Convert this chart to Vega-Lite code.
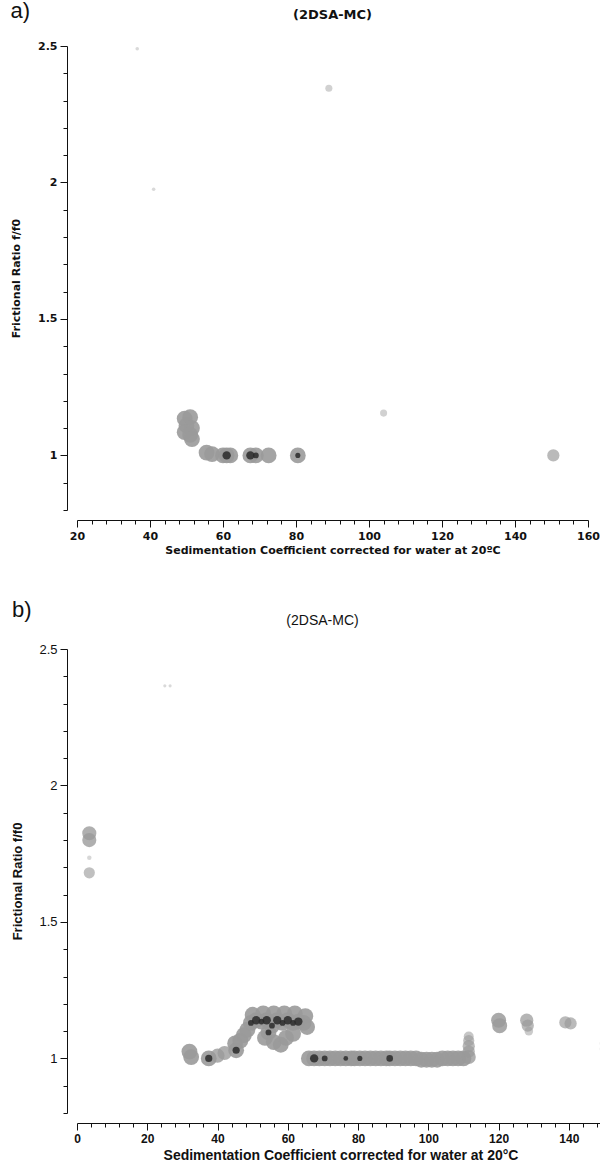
{
  "$schema": "https://vega.github.io/schema/vega-lite/v6.json",
  "background": "white",
  "padding": {"left": 10, "top": 0, "right": 0, "bottom": 0},
  "spacing": 44,
  "config": {
    "view": {"stroke": null},
    "axis": {"grid": false, "domainColor": "#111", "tickColor": "#111", "labelColor": "#111", "titleColor": "#111", "domainWidth": 1, "tickWidth": 1, "labelOverlap": false, "labelFlush": false, "tickCount": 400}
  },
  "datasets": {
    "a": [
      {"s": 36.5, "f": 2.49, "c": 0.05},
      {"s": 41, "f": 1.975, "c": 0.05},
      {"s": 89, "f": 2.345, "c": 0.2},
      {"s": 104, "f": 1.155, "c": 0.2},
      {"s": 49.5, "f": 1.135, "c": 1},
      {"s": 51, "f": 1.14, "c": 1},
      {"s": 50, "f": 1.11, "c": 1},
      {"s": 51.5, "f": 1.1, "c": 1},
      {"s": 49.5, "f": 1.085, "c": 1},
      {"s": 51, "f": 1.075, "c": 1},
      {"s": 51.5, "f": 1.06, "c": 1},
      {"s": 55.5, "f": 1.01, "c": 1},
      {"s": 57, "f": 1.005, "c": 1},
      {"s": 60, "f": 1.0, "c": 1},
      {"s": 61, "f": 1.0, "c": 3},
      {"s": 62, "f": 1.0, "c": 1},
      {"s": 67.5, "f": 1.0, "c": 3},
      {"s": 69, "f": 1.0, "c": 2},
      {"s": 72.5, "f": 1.0, "c": 1},
      {"s": 80.5, "f": 1.0, "c": 1.8},
      {"s": 150.5, "f": 1.0, "c": 0.6}
    ],
    "b": [
      {"s": 25, "f": 2.365, "c": 0.04},
      {"s": 26.5, "f": 2.365, "c": 0.04},
      {"s": 3.5, "f": 1.825, "c": 0.8},
      {"s": 3.5, "f": 1.8, "c": 0.8},
      {"s": 3.5, "f": 1.735, "c": 0.08},
      {"s": 3.5, "f": 1.68, "c": 0.5},
      {"s": 32, "f": 1.025, "c": 1},
      {"s": 32.5, "f": 1.005, "c": 1},
      {"s": 37.5, "f": 1.0, "c": 2.5},
      {"s": 40, "f": 1.01, "c": 0.8},
      {"s": 42, "f": 1.02, "c": 0.8},
      {"s": 45.3, "f": 1.03, "c": 2.5},
      {"s": 45, "f": 1.055, "c": 1},
      {"s": 46.5, "f": 1.065, "c": 1},
      {"s": 47.5, "f": 1.085, "c": 1},
      {"s": 48.5, "f": 1.105, "c": 1},
      {"s": 49.5, "f": 1.13, "c": 2},
      {"s": 51, "f": 1.14, "c": 3},
      {"s": 52.5, "f": 1.135, "c": 2},
      {"s": 54, "f": 1.14, "c": 3},
      {"s": 55.5, "f": 1.12, "c": 2},
      {"s": 57, "f": 1.14, "c": 3},
      {"s": 58.5, "f": 1.13, "c": 2},
      {"s": 60, "f": 1.14, "c": 3},
      {"s": 61.5, "f": 1.13, "c": 2},
      {"s": 63, "f": 1.135, "c": 3},
      {"s": 64.5, "f": 1.13, "c": 1},
      {"s": 50, "f": 1.16, "c": 1},
      {"s": 53, "f": 1.165, "c": 1},
      {"s": 56, "f": 1.165, "c": 1},
      {"s": 59, "f": 1.165, "c": 1},
      {"s": 62, "f": 1.165, "c": 1},
      {"s": 65, "f": 1.155, "c": 1},
      {"s": 65.5, "f": 1.115, "c": 1},
      {"s": 54.5, "f": 1.095, "c": 2},
      {"s": 53.5, "f": 1.075, "c": 1},
      {"s": 56, "f": 1.06, "c": 1},
      {"s": 58, "f": 1.05, "c": 1},
      {"s": 59.5, "f": 1.075, "c": 1},
      {"s": 61.5, "f": 1.09, "c": 1},
      {"s": 66, "f": 1.0, "c": 1},
      {"s": 67.5, "f": 1.0, "c": 3},
      {"s": 69, "f": 1.0, "c": 1},
      {"s": 70.5, "f": 1.0, "c": 2},
      {"s": 72, "f": 1.0, "c": 1},
      {"s": 73.5, "f": 1.0, "c": 1},
      {"s": 75, "f": 1.0, "c": 1},
      {"s": 76.5, "f": 1.0, "c": 1.7},
      {"s": 78, "f": 1.0, "c": 1},
      {"s": 79, "f": 1.0, "c": 1},
      {"s": 80.5, "f": 1.0, "c": 1.8},
      {"s": 82, "f": 1.0, "c": 1},
      {"s": 83.5, "f": 1.0, "c": 1},
      {"s": 85, "f": 1.0, "c": 1},
      {"s": 86.5, "f": 1.0, "c": 1},
      {"s": 88, "f": 1.0, "c": 1},
      {"s": 89, "f": 1.0, "c": 2.3},
      {"s": 90.5, "f": 1.0, "c": 1},
      {"s": 92, "f": 1.0, "c": 1},
      {"s": 93.5, "f": 1.0, "c": 1},
      {"s": 95, "f": 1.0, "c": 1},
      {"s": 96.5, "f": 1.0, "c": 1},
      {"s": 98, "f": 0.995, "c": 1},
      {"s": 99.5, "f": 0.995, "c": 1},
      {"s": 101, "f": 0.995, "c": 1},
      {"s": 102.5, "f": 0.995, "c": 1},
      {"s": 104, "f": 1.0, "c": 1},
      {"s": 105.5, "f": 1.0, "c": 1},
      {"s": 107, "f": 1.0, "c": 1},
      {"s": 108.5, "f": 1.0, "c": 1},
      {"s": 110, "f": 1.0, "c": 1},
      {"s": 111.5, "f": 1.005, "c": 0.8},
      {"s": 111.5, "f": 1.025, "c": 0.6},
      {"s": 111.5, "f": 1.045, "c": 0.6},
      {"s": 111.5, "f": 1.065, "c": 0.5},
      {"s": 111.5, "f": 1.08, "c": 0.4},
      {"s": 120, "f": 1.14, "c": 0.9},
      {"s": 120.3, "f": 1.12, "c": 0.9},
      {"s": 128, "f": 1.14, "c": 0.7},
      {"s": 128.3, "f": 1.12, "c": 0.6},
      {"s": 128.6, "f": 1.1, "c": 0.3},
      {"s": 139, "f": 1.132, "c": 0.6},
      {"s": 140.5, "f": 1.128, "c": 0.6},
      {"s": 149.5, "f": 1.055, "c": 0.1},
      {"s": 149.5, "f": 1.035, "c": 0.1}
    ]
  },
  "vconcat": [
    {
      "title": {"text": "a)", "anchor": "start", "frame": "bounds", "fontSize": 22, "font": "Liberation Sans", "fontWeight": "normal", "color": "#111", "offset": 0, "dy": 14},
      "vconcat": [
        {
          "width": 511,
          "height": 464,
          "title": {"text": "(2DSA-MC)", "font": "DejaVu Sans", "fontSize": 13, "fontWeight": "bold", "color": "#111", "offset": 18},
          "data": {"name": "a"},
          "resolve": {"scale": {"size": "independent"}},
          "layer": [
            {
              "mark": {"type": "circle", "color": "#9a9a9a"},
              "encoding": {
                "x": {"field": "s", "type": "quantitative", "scale": {"domain": [20, 160], "nice": false, "zero": false},
                  "axis": {"title": "Sedimentation Coefficient corrected for water at 20ºC",
                    "values": [20,24,28,32,36,40,44,48,52,56,60,64,68,72,76,80,84,88,92,96,100,104,108,112,116,120,124,128,132,136,140,144,148,152,156,160],
                    "labelExpr": "datum.value % 20 === 0 ? format(datum.value, 'd') : ''",
                    "labelOverlap": false, "tickCount": 400,
                    "tickSize": {"condition": {"test": "datum.value % 20 === 0", "value": 7}, "value": 4},
                    "offset": 10, "labelFont": "DejaVu Sans", "labelFontWeight": "bold", "labelFontSize": 11, "labelPadding": 3,
                    "titleFont": "DejaVu Sans", "titleFontWeight": "bold", "titleFontSize": 11, "titlePadding": 3}},
                "y": {"field": "f", "type": "quantitative", "scale": {"domain": [0.8, 2.5], "nice": false, "zero": false},
                  "axis": {"title": "Frictional Ratio f/f0",
                    "values": [0.8,0.9,1.0,1.1,1.2,1.3,1.4,1.5,1.6,1.7,1.8,1.9,2.0,2.1,2.2,2.3,2.4,2.5],
                    "labelExpr": "abs(datum.value*2 - round(datum.value*2)) < 0.001 ? format(datum.value, '~g') : ''",
                    "labelOverlap": false, "tickCount": 400,
                    "tickSize": {"condition": {"test": "abs(datum.value*2 - round(datum.value*2)) < 0.001", "value": 7}, "value": 4},
                    "offset": 10, "labelFont": "DejaVu Sans", "labelFontWeight": "bold", "labelFontSize": 11, "labelPadding": 3,
                    "titleFont": "DejaVu Sans", "titleFontWeight": "bold", "titleFontSize": 11, "titlePadding": 16}},
                "size": {"field": "c", "type": "quantitative", "scale": {"domain": [0, 1], "range": [0, 250], "clamp": true}, "legend": null},
                "opacity": {"field": "c", "type": "quantitative", "scale": {"domain": [0, 1], "range": [0.35, 0.9], "clamp": true}, "legend": null}
              }
            },
            {
              "transform": [{"filter": "datum.c >= 1.5"}],
              "mark": {"type": "circle", "color": "#2a2a2a", "opacity": 0.85},
              "encoding": {
                "x": {"field": "s", "type": "quantitative"},
                "y": {"field": "f", "type": "quantitative"},
                "size": {"field": "c", "type": "quantitative", "scale": {"domain": [1.5, 3], "range": [15, 70]}, "legend": null}
              }
            }
          ]
        }
      ]
    },
    {
      "title": {"text": "b)", "anchor": "start", "frame": "bounds", "fontSize": 22, "font": "Liberation Sans", "fontWeight": "normal", "color": "#111", "offset": 0, "dy": 8},
      "vconcat": [
        {
          "width": 527,
          "height": 464,
          "title": {"text": "(2DSA-MC)", "font": "Liberation Sans", "fontSize": 14, "fontWeight": "normal", "color": "#111", "offset": 15, "dx": -18},
          "data": {"name": "b"},
          "resolve": {"scale": {"size": "independent"}},
          "layer": [
            {
              "mark": {"type": "circle", "color": "#9a9a9a"},
              "encoding": {
                "x": {"field": "s", "type": "quantitative", "scale": {"domain": [0, 150], "nice": false, "zero": false},
                  "axis": {"title": "Sedimentation Coefficient corrected for water at 20°C",
                    "values": [0,4,8,12,16,20,24,28,32,36,40,44,48,52,56,60,64,68,72,76,80,84,88,92,96,100,104,108,112,116,120,124,128,132,136,140,144,148],
                    "labelExpr": "datum.value % 20 === 0 ? format(datum.value, 'd') : ''",
                    "labelOverlap": false, "tickCount": 400,
                    "tickSize": {"condition": {"test": "datum.value % 20 === 0", "value": 7}, "value": 4},
                    "offset": 10, "labelFont": "Liberation Sans", "labelFontWeight": "bold", "labelFontSize": 12, "labelPadding": 3,
                    "titleFont": "Liberation Sans", "titleFontWeight": "bold", "titleFontSize": 14, "titlePadding": 4}},
                "y": {"field": "f", "type": "quantitative", "scale": {"domain": [0.8, 2.5], "nice": false, "zero": false},
                  "axis": {"title": "Frictional Ratio f/f0",
                    "values": [0.8,0.9,1.0,1.1,1.2,1.3,1.4,1.5,1.6,1.7,1.8,1.9,2.0,2.1,2.2,2.3,2.4,2.5],
                    "labelExpr": "abs(datum.value*2 - round(datum.value*2)) < 0.001 ? format(datum.value, '~g') : ''",
                    "labelOverlap": false, "tickCount": 400,
                    "tickSize": {"condition": {"test": "abs(datum.value*2 - round(datum.value*2)) < 0.001", "value": 7}, "value": 4},
                    "offset": 10, "labelFont": "Liberation Sans", "labelFontWeight": "normal", "labelFontSize": 13, "labelPadding": 3,
                    "titleFont": "Liberation Sans", "titleFontWeight": "bold", "titleFontSize": 13, "titlePadding": 14}},
                "size": {"field": "c", "type": "quantitative", "scale": {"domain": [0, 1], "range": [0, 250], "clamp": true}, "legend": null},
                "opacity": {"field": "c", "type": "quantitative", "scale": {"domain": [0, 1], "range": [0.35, 0.9], "clamp": true}, "legend": null}
              }
            },
            {
              "transform": [{"filter": "datum.c >= 1.5"}],
              "mark": {"type": "circle", "color": "#2a2a2a", "opacity": 0.85},
              "encoding": {
                "x": {"field": "s", "type": "quantitative"},
                "y": {"field": "f", "type": "quantitative"},
                "size": {"field": "c", "type": "quantitative", "scale": {"domain": [1.5, 3], "range": [15, 70]}, "legend": null}
              }
            }
          ]
        }
      ]
    }
  ]
}
